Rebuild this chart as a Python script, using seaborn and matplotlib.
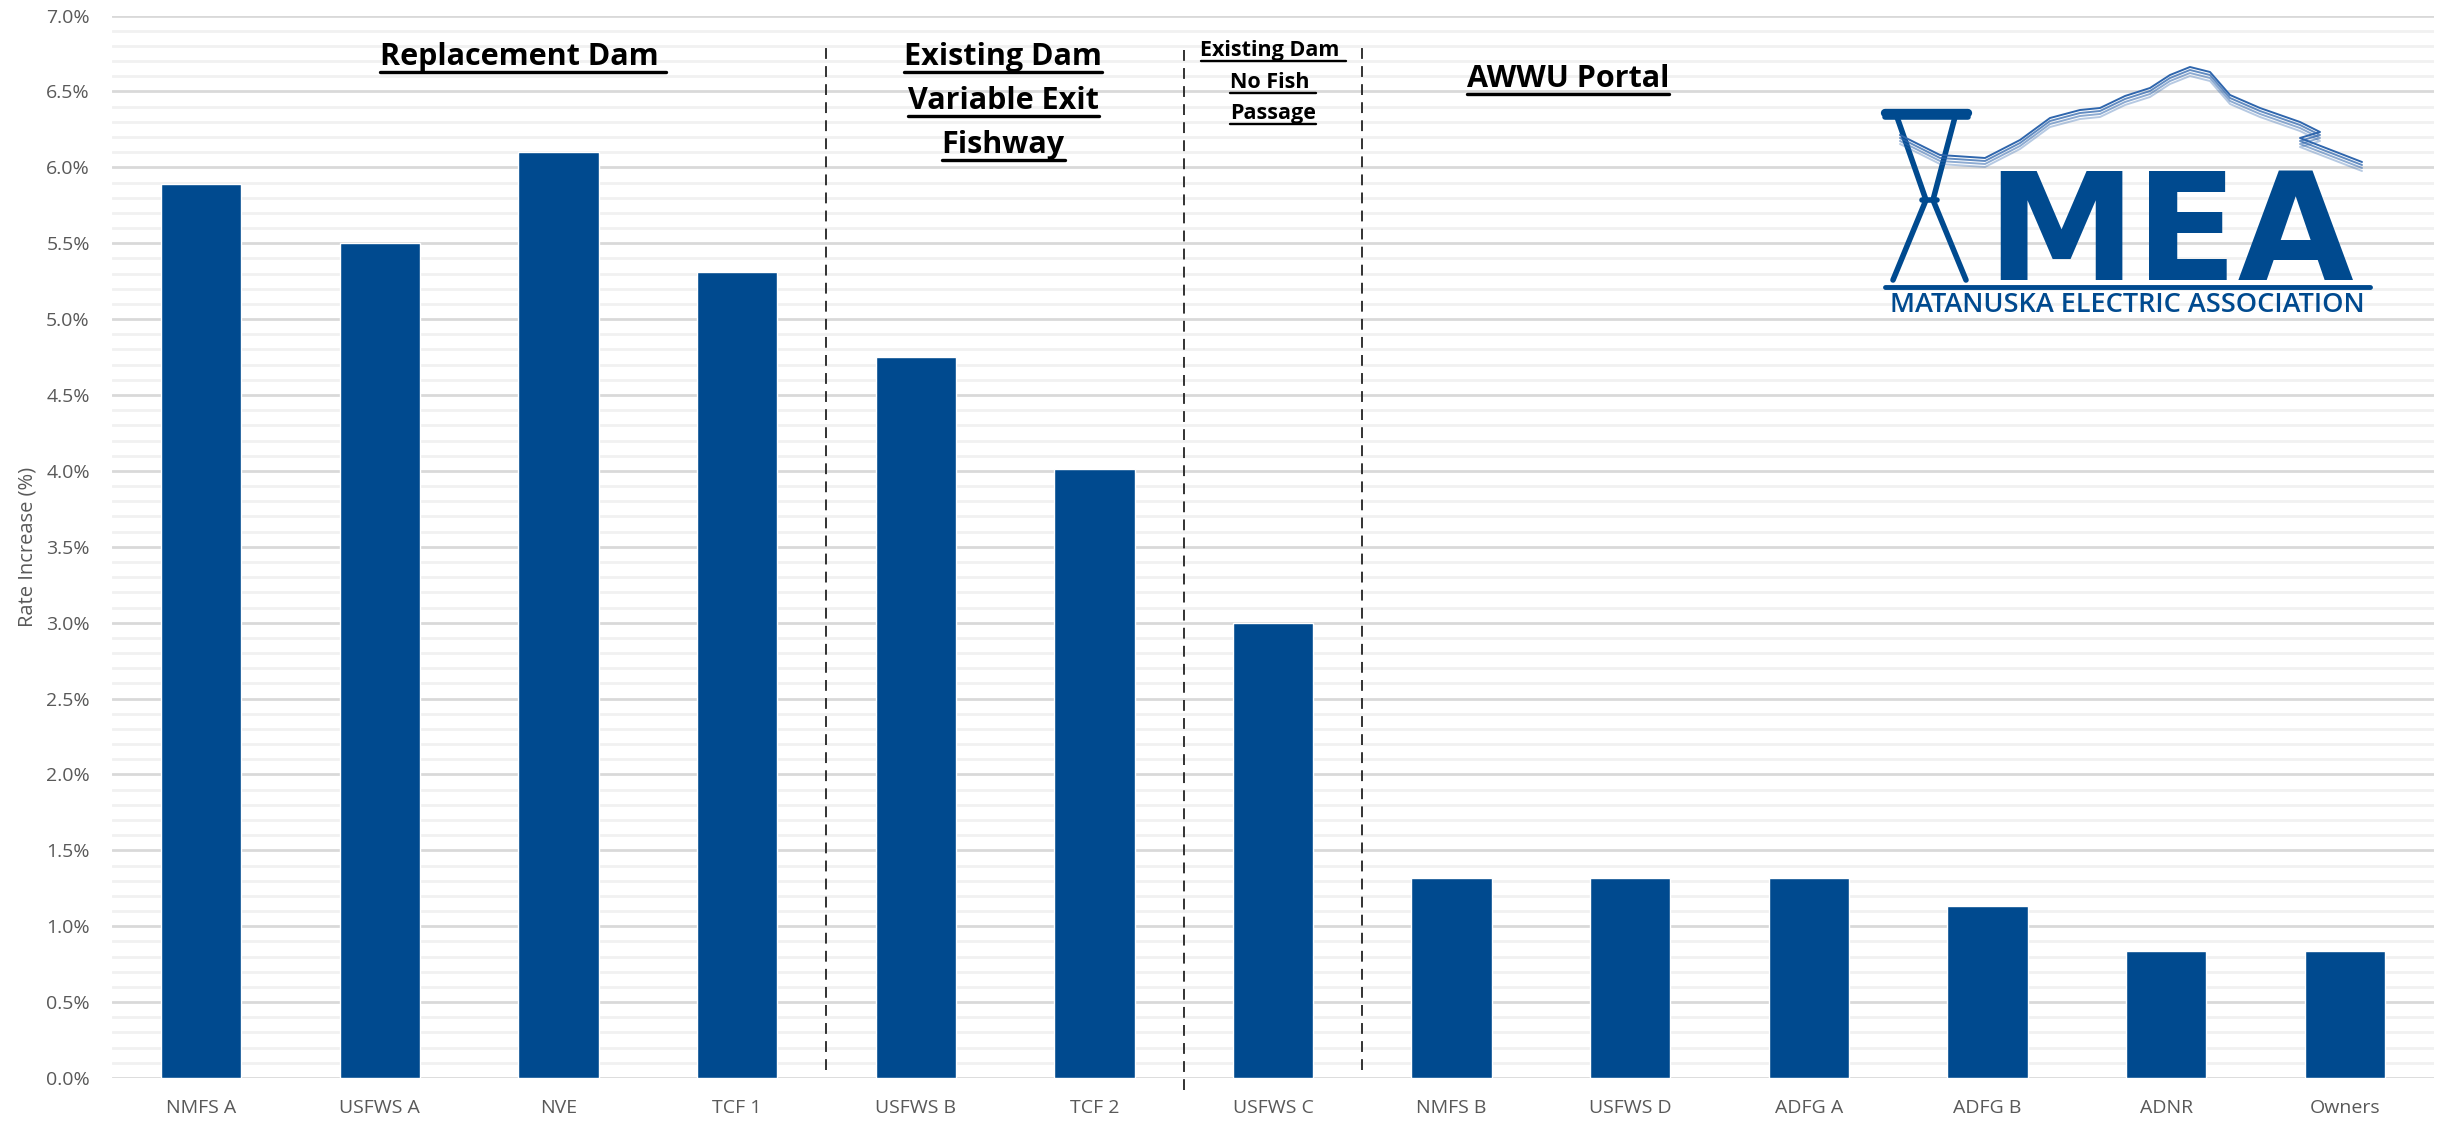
import matplotlib
matplotlib.use("Agg")
import matplotlib.pyplot as plt
import seaborn as sns
import pandas as pd
from matplotlib.ticker import MultipleLocator, FuncFormatter
from matplotlib.lines import Line2D

categories = ["NMFS A", "USFWS A", "NVE", "TCF 1", "USFWS B", "TCF 2", "USFWS C",
              "NMFS B", "USFWS D", "ADFG A", "ADFG B", "ADNR", "Owners"]
rate_increase = [5.89, 5.50, 6.10, 5.31, 4.75, 4.01, 3.00,
                 1.32, 1.32, 1.32, 1.13, 0.84, 0.84]
y_ticks = [0.0, 0.5, 1.0, 1.5, 2.0, 2.5, 3.0, 3.5, 4.0, 4.5, 5.0, 5.5, 6.0, 6.5, 7.0]
group_boundaries = [3.5, 5.5, 6.5]
group_headers = [
    (["Replacement Dam "], 1.80, 6.673, 22, 0),
    (["Existing Dam", "Variable Exit", "Fishway"], 4.49, 6.673, 22, 44),
    (["Existing Dam ", "No Fish ", "Passage"], 6.00, 6.733, 15.5, 31.5),
    (["AWWU Portal"], 7.65, 6.53, 22, 0),
]

sns.set_theme(style="white")
plt.rcParams["font.family"] = ["Open Sans", "DejaVu Sans"]

BLUE = "#004A8F"
W, H = 2443, 1123
fig = plt.figure(figsize=(W / 100, H / 100), dpi=100)
ax = fig.add_axes([112 / W, 1 - 1078 / H, (2434 - 112) / W, (1078 - 15.6) / H])

df = pd.DataFrame({"cat": categories, "val": rate_increase})
sns.barplot(data=df, x="cat", y="val", color=BLUE, saturation=1, width=0.45, ax=ax, zorder=3)

ax.set_ylim(0, 7.0)
ax.set_xlim(-0.5, len(categories) - 0.5)
ax.set_yticks(y_ticks)
ax.yaxis.set_minor_locator(MultipleLocator(0.1))
ax.yaxis.set_major_formatter(FuncFormatter(lambda v, p: f"{v:.1f}%"))
ax.grid(axis="y", which="major", color="#d9d9d9", lw=2, zorder=0)
ax.grid(axis="y", which="minor", color="#f1f1f1", lw=2, zorder=0)
ax.set_axisbelow(True)
for s in ax.spines.values():
    s.set_visible(False)
ax.tick_params(axis="both", which="both", length=0, colors="#595959", labelsize=14)
ax.tick_params(axis="x", pad=15)
ax.tick_params(axis="y", pad=16)
ax.set_xlabel("")
ax.set_ylabel("Rate Increase (%)", color="#595959", fontsize=14.5, labelpad=6)

# dashed separators
for i, b in enumerate(group_boundaries):
    lo = -0.08 if i == 1 else 0.05
    ax.plot([b, b], [lo, 6.81], color="#222222", lw=1.3, ls=(0, (6, 4)), zorder=4, clip_on=False)

fig.canvas.draw()
renderer = fig.canvas.get_renderer()
for lines, xc, yb, fs, step in group_headers:
    for k, line in enumerate(lines):
        base_disp = ax.transData.transform((xc, yb))
        by = base_disp[1] - k * step
        yd = ax.transData.inverted().transform((base_disp[0], by))[1]
        t = ax.text(xc, yd, line, ha="center", va="baseline", fontsize=fs,
                    fontweight="bold", color="black", zorder=5)
        bb = t.get_window_extent(renderer)
        uy = by - fs * 0.33
        inv = ax.transData.inverted()
        x0 = inv.transform((bb.x0, uy))
        x1 = inv.transform((bb.x1, uy))
        ax.add_line(Line2D([x0[0], x1[0]], [x0[1], x1[1]], color="black", lw=fs * 0.11, zorder=5))

# logo (figure pixel coords converted)
def fx(px):
    return px / W

def fy(py):
    return 1 - py / H

tower = [
    ([1885, 1968], [117, 117]),
    ([1897, 1926, 1893], [117, 200, 280]),
    ([1955, 1933, 1966], [117, 200, 280]),
    ([1922, 1937], [200, 200]),
]
for xs, ys in tower:
    fig.add_artist(Line2D([fx(v) for v in xs], [fy(v) for v in ys], color=BLUE, lw=4))
fig.add_artist(Line2D([fx(1885), fx(1968)], [fy(113), fy(113)], color=BLUE, lw=6))

mx = [1900, 1940, 1985, 2020, 2050, 2080, 2100, 2125, 2150, 2170, 2190, 2210, 2230, 2260, 2300, 2320, 2300, 2362]
my = [135, 155, 158, 140, 118, 110, 108, 96, 88, 75, 67, 72, 95, 108, 122, 132, 138, 162]
for off, a in zip([0, 3, 6, 9], [1.0, 0.75, 0.55, 0.35]):
    fig.add_artist(Line2D([fx(v) for v in mx], [fy(v + off) for v in my], color="#2f66ad", lw=1.4, alpha=a))

fig.text(fx(2170), fy(280), "MEA", ha="center", va="baseline", fontsize=108,
         fontweight="bold", color=BLUE, family=["DejaVu Sans"])
fig.add_artist(Line2D([fx(1885), fx(2370)], [fy(287), fy(287)], color=BLUE, lw=3.5))
fig.text(fx(2127), fy(312), "MATANUSKA ELECTRIC ASSOCIATION", ha="center", va="baseline",
         fontsize=19.5, color=BLUE, family=["Open Sans", "DejaVu Sans"], fontweight="semibold")

fig.savefig("out.png", dpi=100)
